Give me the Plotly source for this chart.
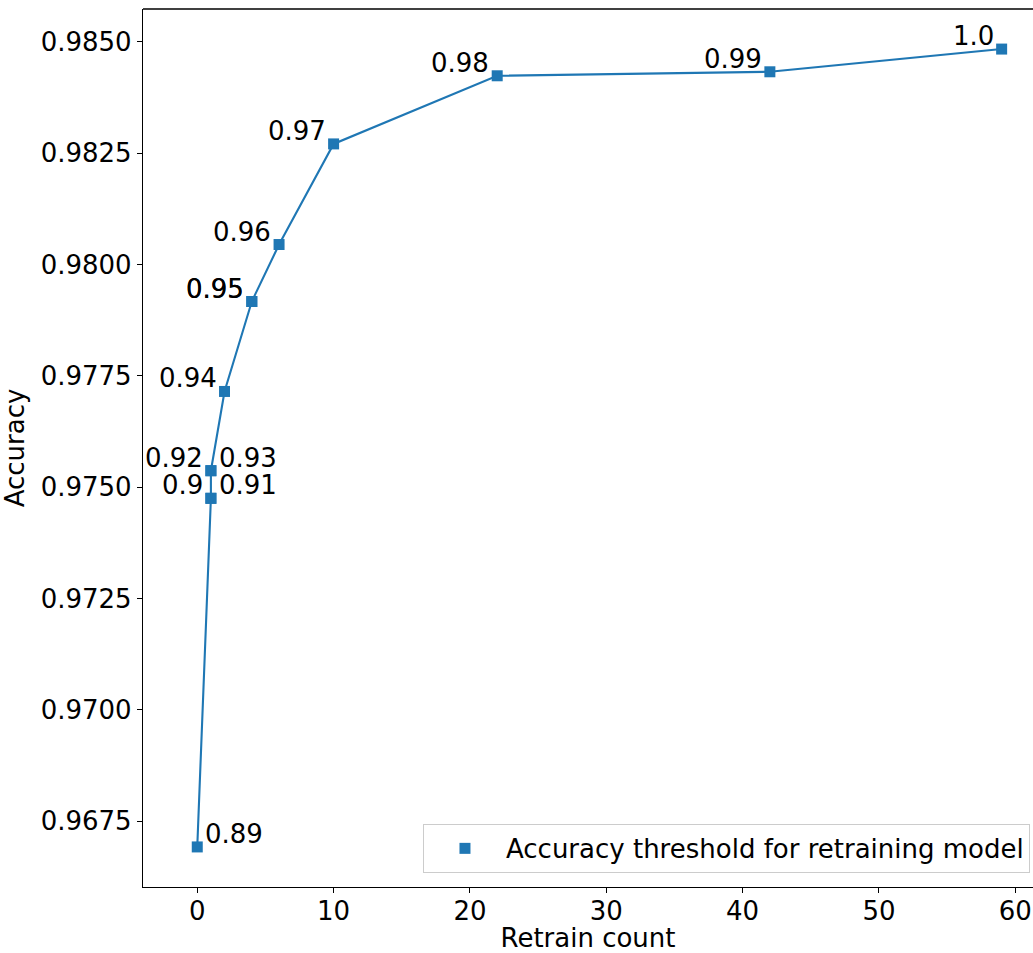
import plotly.graph_objects as go

# Data
thresholds = ["0.89", "0.9", "0.91", "0.92", "0.93", "0.94", "0.95", "0.95",
              "0.96", "0.97", "0.98", "0.99", "1.0"]
retrain_count = [0, 1, 1, 1, 1, 2, 4, 4, 6, 10, 22, 42, 59]
accuracy = [0.96692, 0.97475, 0.97475, 0.97537, 0.97537, 0.97715, 0.97917,
            0.97917, 0.98045, 0.98271, 0.98424, 0.98433, 0.98484]
label_side = ["right", "left", "right", "left", "right", "left", "left",
              "left", "left", "left", "left", "left", "left"]

x_ticks = [0, 10, 20, 30, 40, 50, 60]
y_ticks = [0.9675, 0.9700, 0.9725, 0.9750, 0.9775, 0.9800, 0.9825, 0.9850]

BLUE = "#1f77b4"
FONT = "DejaVu Sans"
FS = 26

fig = go.Figure()
fig.add_trace(go.Scatter(
    x=retrain_count, y=accuracy, mode="lines",
    line=dict(color=BLUE, width=2.1), showlegend=False, hoverinfo="skip"))
fig.add_trace(go.Scatter(
    x=retrain_count, y=accuracy, mode="markers",
    marker=dict(symbol="square", size=11, color=BLUE),
    name="Accuracy threshold for retraining model"))

for t, xv, yv, side in zip(thresholds, retrain_count, accuracy, label_side):
    fig.add_annotation(
        x=xv, y=yv, text=t, showarrow=False,
        xanchor="left" if side == "right" else "right",
        yanchor="bottom",
        xshift=6 if side == "right" else -6,
        yshift=-4,
        font=dict(family=FONT, size=FS, color="black"))

# top spine only (right spine is cropped in reference)
fig.add_shape(type="line", xref="paper", yref="paper", x0=0, x1=1, y0=1, y1=1,
              line=dict(color="black", width=1.3))

fig.update_layout(
    width=1033, height=953,
    margin=dict(l=143, r=0, t=9, b=66),
    paper_bgcolor="white", plot_bgcolor="white",
    font=dict(family=FONT, size=FS, color="black"),
    xaxis=dict(
        range=[-3.98, 61.3], tickvals=x_ticks, ticktext=[str(v) for v in x_ticks],
        showgrid=False, zeroline=False, showline=True, linecolor="black", linewidth=1.3,
        ticks="outside", ticklen=5, tickwidth=1.3, tickcolor="black",
        tickfont=dict(family=FONT, size=FS), ticklabelstandoff=-4,
        title=dict(text="Retrain count", font=dict(family=FONT, size=FS), standoff=2)),
    yaxis=dict(
        range=[0.96602, 0.98574], tickvals=y_ticks, ticktext=[f"{v:.4f}" for v in y_ticks],
        showgrid=False, zeroline=False, showline=True, linecolor="black", linewidth=1.3,
        ticks="outside", ticklen=5, tickwidth=1.3, tickcolor="black",
        tickfont=dict(family=FONT, size=FS),
        title=dict(text="Accuracy", font=dict(family=FONT, size=FS), standoff=8)),
    legend=dict(
        x=0.9966, y=0.016, xanchor="right", yanchor="bottom",
        bgcolor="white", bordercolor="#cccccc", borderwidth=1,
        itemwidth=72,
        font=dict(family=FONT, size=FS)),
    showlegend=True,
)

fig.write_html("out.html", config={"displayModeBar": False},
               post_script="document.body.style.margin='0';document.body.style.overflow='hidden';")
